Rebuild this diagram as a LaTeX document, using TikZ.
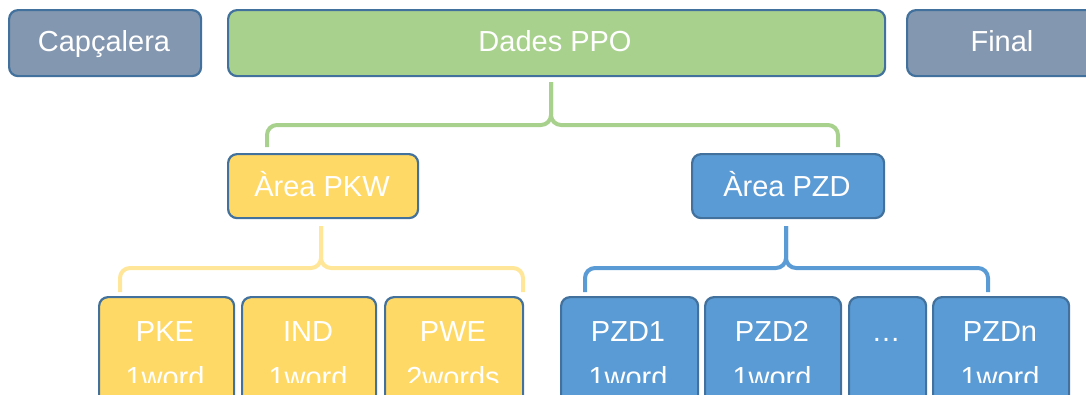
\documentclass[tikz,border=0pt]{standalone}
\usepackage{fontspec}
\setmainfont{Liberation Sans}
\definecolor{bordc}{HTML}{41719C}
\definecolor{grayb}{HTML}{8497B0}
\definecolor{greenf}{HTML}{A9D18E}
\definecolor{yellowf}{HTML}{FFD966}
\definecolor{yellowl}{HTML}{FFE699}
\definecolor{bluef}{HTML}{5B9BD5}
\begin{document}
\begin{tikzpicture}[x=1pt,y=-1pt,
  box/.style={draw=bordc, line width=2.2pt, rounded corners=9pt, anchor=north west, inner sep=0pt},
  lbl/.style={text=white, font=\fontsize{29}{34}\selectfont, inner sep=0pt, anchor=base},
  brace/.style={line width=4pt, rounded corners=10pt}]
\clip (0,0) rectangle (1086,394);
% top row
\node[box, fill=grayb, minimum width=192pt, minimum height=66pt] (cap) at (8,9) {};
\node[box, fill=greenf, minimum width=657pt, minimum height=66pt] (dades) at (227,9) {};
\node[box, fill=grayb, minimum width=192pt, minimum height=66pt] (fin) at (906,9) {};
\node[lbl] (capt) at (104,51) {Capçalera};
\node[lbl] (dadest) at (555,51) {Dades PPO};
\node[lbl] (fint) at (1002,51) {Final};
% middle row
\node[box, fill=yellowf, minimum width=190pt, minimum height=64pt] (pkw) at (227,153) {};
\node[box, fill=bluef, minimum width=192pt, minimum height=64pt] (pzd) at (691,153) {};
\node[lbl] (pkwt) at (322,196) {Àrea PKW};
\node[lbl] (pzdt) at (787,196) {Àrea PZD};
% bottom row
\node[box, fill=yellowf, minimum width=135pt, minimum height=130pt] (pke) at (98,296) {};
\node[box, fill=yellowf, minimum width=134pt, minimum height=130pt] (ind) at (241,296) {};
\node[box, fill=yellowf, minimum width=138pt, minimum height=130pt] (pwe) at (384,296) {};
\node[box, fill=bluef, minimum width=137pt, minimum height=130pt] (pzda) at (560,296) {};
\node[box, fill=bluef, minimum width=136pt, minimum height=130pt] (pzdb) at (704,296) {};
\node[box, fill=bluef, minimum width=77pt, minimum height=130pt] (dots) at (848,296) {};
\node[box, fill=bluef, minimum width=136pt, minimum height=130pt] (pzdn) at (932,296) {};
\node[lbl] (pket) at (165,341) {PKE};
\node[lbl] (indt) at (308,341) {IND};
\node[lbl] (pwet) at (453,341) {PWE};
\node[lbl] (pzdat) at (628,341) {PZD1};
\node[lbl] (pzdbt) at (772,341) {PZD2};
\node[lbl] (dotst) at (886,341) {…};
\node[lbl] (pzdnt) at (1000,341) {PZDn};
\begin{scope}
\clip (0,0) rectangle (1086,382);
\node[lbl] (pkew) at (165,387) {1word};
\node[lbl] (indw) at (308,387) {1word};
\node[lbl] (pwew) at (453,387) {2words};
\node[lbl] (pzdaw) at (628,387) {1word};
\node[lbl] (pzdbw) at (772,387) {1word};
\node[lbl] (pzdnw) at (1000,387) {1word};
\end{scope}
% braces
\coordinate (g0) at (551,82);
\coordinate (gl) at (267,147);
\coordinate (gr) at (838,147);
\draw[brace, greenf] (gl) -- (267,125) -- (551,125) -- (g0);
\draw[brace, greenf] (gr) -- (838,125) -- (551,125) -- (g0);
\coordinate (y0) at (321,226);
\coordinate (yl) at (120,292);
\coordinate (yr) at (523,292);
\draw[brace, yellowl] (yl) -- (120,268) -- (321,268) -- (y0);
\draw[brace, yellowl] (yr) -- (523,268) -- (321,268) -- (y0);
\coordinate (b0) at (786,226);
\coordinate (bl) at (585,292);
\coordinate (br) at (988,292);
\draw[brace, bluef] (bl) -- (585,268) -- (786,268) -- (b0);
\draw[brace, bluef] (br) -- (988,268) -- (786,268) -- (b0);
\end{tikzpicture}
\end{document}
